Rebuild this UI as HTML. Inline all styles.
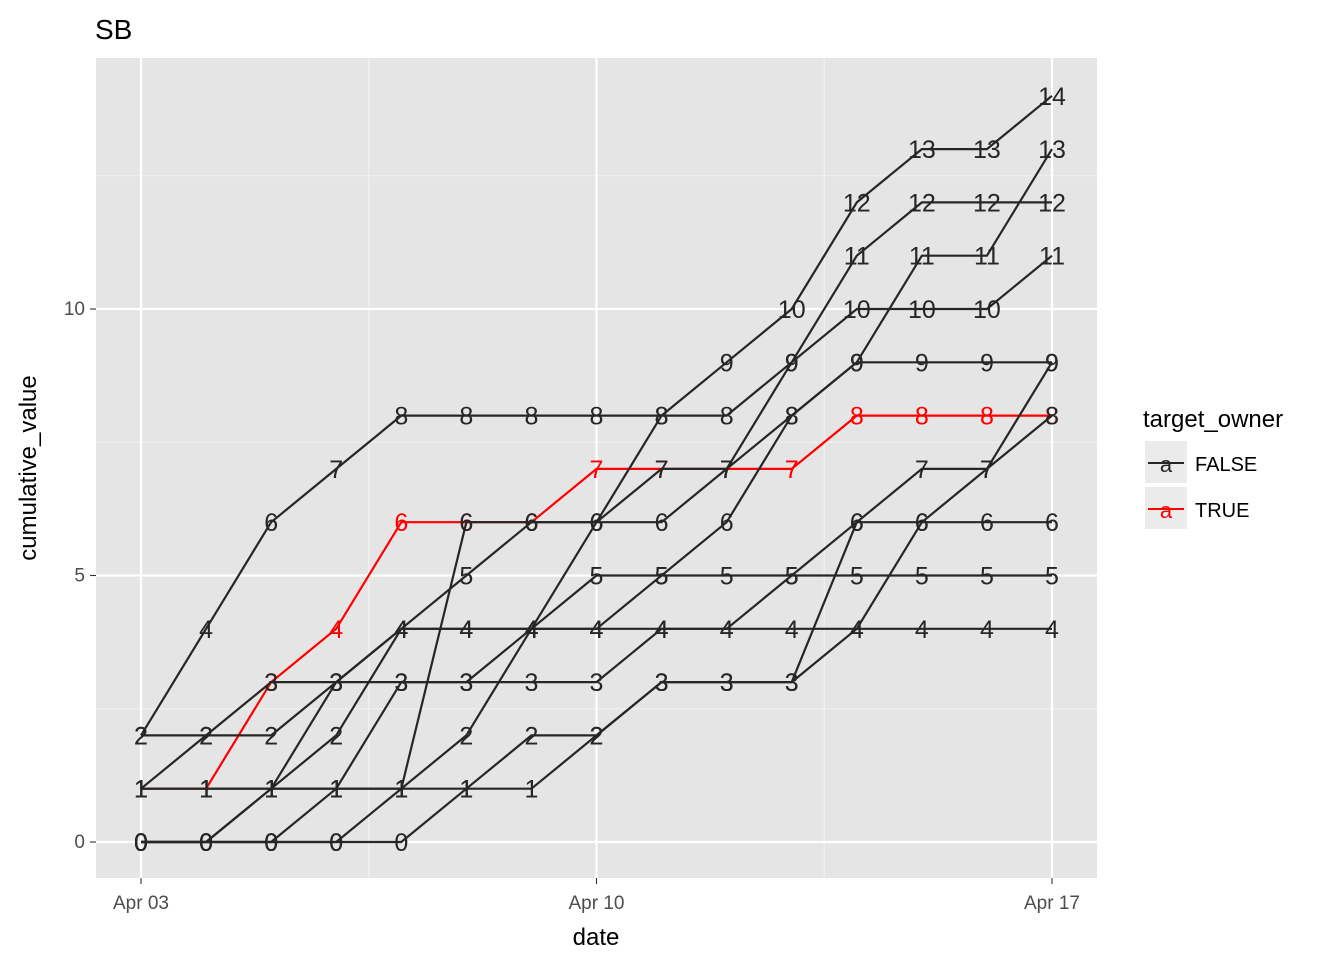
<!DOCTYPE html>
<html><head><meta charset="utf-8"><style>
body{margin:0;background:#fff;}
svg{display:block;font-family:"Liberation Sans",Arial,sans-serif;}
</style></head><body>
<svg id="chart" width="1344" height="960">
<text x="95" y="39" font-size="28" fill="#000">SB</text>
<rect x="96" y="58" width="1001" height="820" fill="#e5e5e5"/>
<g id="grid"></g>
<g id="series"></g>
<g id="axes"></g>
<text x="596" y="945" font-size="24" text-anchor="middle">date</text>
<text transform="translate(36,468) rotate(-90)" font-size="24" text-anchor="middle">cumulative_value</text>
<g>
<text x="1143" y="427" font-size="24">target_owner</text>
<g>
<rect x="1145" y="441" width="42" height="42" fill="#ebebeb"/>
<line x1="1148" y1="463" x2="1184" y2="463" stroke="#262626" stroke-width="2"/>
<text x="1166" y="472" font-size="22" fill="#262626" text-anchor="middle">a</text>
<text x="1195" y="471" font-size="20">FALSE</text></g>
<g>
<rect x="1145" y="487" width="42" height="42" fill="#ebebeb"/>
<line x1="1148" y1="509" x2="1184" y2="509" stroke="#ff0000" stroke-width="2"/>
<text x="1166" y="518" font-size="22" fill="#ff0000" text-anchor="middle">a</text>
<text x="1195" y="517" font-size="20">TRUE</text></g>
</g>
</svg>
<script>
const days = [0,1,2,3,4,5,6,7,8,9,10,11,12,13,14];
const xTickDays = [0,7,14];
const xTickLabels = ["Apr 03","Apr 10","Apr 17"];
const yTicks = [0,5,10];
const seriesFalse = [
 [2,4,6,7,8,8,8,8,8,9,10,12,13,13,14],
 [2,2,2,3,4,4,4,4,4,4,4,4,4,4,4],
 [1,2,3,3,3,3,3,3,4,4,5,6,6,6,6],
 [0,0,1,3,4,5,6,6,6,7,9,11,12,12,12],
 [0,0,1,1,3,3,4,4,5,5,5,5,5,5,5],
 [0,0,0,1,1,2,4,6,8,8,9,10,10,10,11],
 [0,0,0,0,1,6,6,6,7,7,8,9,11,11,13],
 [1,1,1,1,1,1,1,2,3,3,3,4,6,7,8],
 [0,0,0,0,0,1,2,2,3,3,3,6,7,7,9],
 [1,1,1,2,4,4,4,5,5,6,8,9,9,9,9]
];
const seriesTrue = [1,1,3,4,6,6,6,7,7,7,7,8,8,8,8];

const X0=141, DX=(1052-141)/14;
const Y0=842, DY=(842-309)/10;
const xs = d => X0 + d*DX;
const ys = v => Y0 - v*DY;
const NS="http://www.w3.org/2000/svg";
function mk(tag, attrs, parent){const e=document.createElementNS(NS,tag);for(const k in attrs)e.setAttribute(k,attrs[k]);parent.appendChild(e);return e;}
const grid=document.getElementById('grid'), ser=document.getElementById('series'), axes=document.getElementById('axes');
for(const v of [2.5,7.5,12.5]){const l=mk('line',{x1:96,x2:1097,y1:ys(v),y2:ys(v),stroke:'#f2f2f2','stroke-width':1.1},grid);

}
for(const d of [3.5,10.5]){const l=mk('line',{x1:xs(d),x2:xs(d),y1:58,y2:878,stroke:'#f2f2f2','stroke-width':1.1},grid);

}
yTicks.forEach(v=>{
 const l=mk('line',{x1:96,x2:1097,y1:ys(v),y2:ys(v),stroke:'#fff','stroke-width':2.2},grid);
 
 
 const t=mk('line',{x1:90,x2:96,y1:ys(v),y2:ys(v),stroke:'#333','stroke-width':1.1},axes);
 
 
 const tx=mk('text',{x:85,y:ys(v)+6,'font-size':19,fill:'#4d4d4d','text-anchor':'end'},axes);
 tx.textContent=v;
 
 
});
xTickDays.forEach((d,i)=>{
 const l=mk('line',{x1:xs(d),x2:xs(d),y1:58,y2:878,stroke:'#fff','stroke-width':2.2},grid);
 
 
 const t=mk('line',{x1:xs(d),x2:xs(d),y1:878,y2:884,stroke:'#333','stroke-width':1.1},axes);
 
 
 const tx=mk('text',{x:xs(d),y:909,'font-size':19,fill:'#4d4d4d','text-anchor':'middle'},axes);
 tx.textContent=xTickLabels[i];
 
 
});
function drawSeries(vals,color,name){
 const g=mk('g',{},ser);
 
 
 const p=mk('polyline',{points:vals.map((v,i)=>xs(days[i])+','+ys(v)).join(' '),fill:'none',stroke:color,'stroke-width':2.2},g);
 
 
 vals.forEach((v,i)=>{
  const t=mk('text',{x:xs(days[i]),y:ys(v)+9,'font-size':25,fill:color,'text-anchor':'middle'},g);
  t.textContent=v;
  
  
 });
}
drawSeries(seriesTrue,'#ff0000','series-true');
seriesFalse.forEach((s,i)=>drawSeries(s,'#262626','series-false-'+(i+1)));
</script>
</body></html>
